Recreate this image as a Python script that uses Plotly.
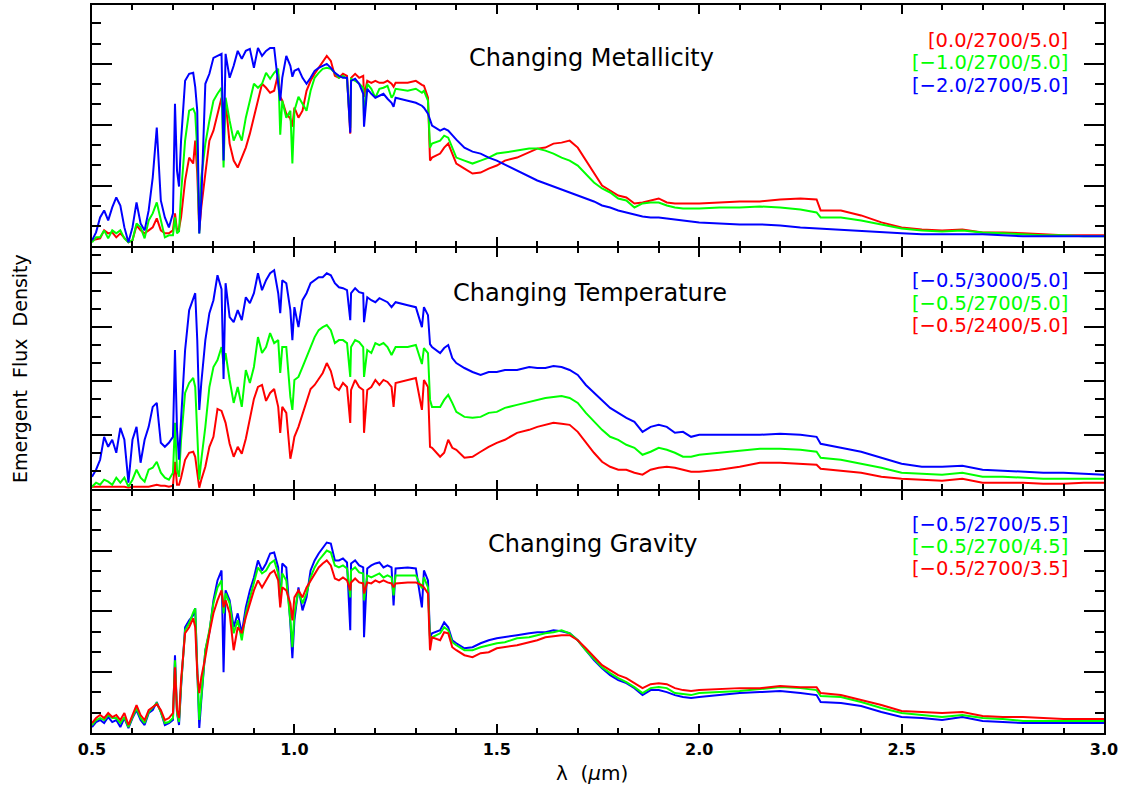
import plotly.graph_objects as go

# Wavelength grid (micron)
wavelength = (
    [0.50, 0.51, 0.52, 0.53, 0.54, 0.55, 0.56, 0.57, 0.58, 0.59, 0.60, 0.61, 0.62, 0.63, 0.64, 0.65, 0.66, 0.67, 0.68, 0.69, 0.70]
    + [0.705, 0.71, 0.715, 0.72, 0.73, 0.74, 0.75, 0.755, 0.76, 0.765, 0.77, 0.78, 0.79, 0.80, 0.81, 0.82, 0.825, 0.83]
    + [0.84, 0.85, 0.86, 0.87, 0.88, 0.89, 0.90, 0.91, 0.92, 0.93, 0.94, 0.95, 0.96, 0.965, 0.97, 0.98, 0.99, 0.995, 1.00]
    + [1.01, 1.02, 1.03, 1.04, 1.05, 1.06, 1.07, 1.08, 1.09, 1.10, 1.11, 1.12, 1.13, 1.138, 1.14, 1.15, 1.16, 1.17, 1.172, 1.18, 1.19, 1.20]
    + [1.21, 1.22, 1.23, 1.24, 1.245, 1.25, 1.28, 1.30, 1.315, 1.32, 1.33, 1.335, 1.34, 1.36, 1.37, 1.38, 1.39, 1.40]
    + [1.42, 1.44, 1.46, 1.48, 1.50, 1.52, 1.55, 1.58, 1.60, 1.62, 1.64, 1.66, 1.68, 1.70, 1.72, 1.74, 1.76, 1.78, 1.80]
    + [1.82, 1.84, 1.86, 1.88, 1.90, 1.92, 1.94, 1.96, 1.98, 2.00, 2.05, 2.10, 2.15, 2.20, 2.25, 2.29, 2.30, 2.35, 2.40, 2.45, 2.50]
    + [2.55, 2.60, 2.65, 2.70, 2.75, 2.80, 2.85, 2.90, 2.95, 3.00]
)

# ---- Top panel: changing metallicity (arbitrary flux units) ----
met_00 = (
    [6, 7, 8, 16, 13, 14, 9, 13, 9, 4, 6, 21, 16, 13, 16, 19, 28, 16, 13, 13, 16]
    + [33, 16, 18, 29, 66, 89, 83, 106, 73, 16, 39, 73, 106, 116, 133, 149, 140, 146]
    + [103, 86, 79, 89, 99, 113, 129, 146, 163, 159, 154, 156, 173, 150, 146, 133, 128, 120, 139]
    + [129, 136, 156, 166, 173, 179, 184, 191, 186, 171, 169, 173, 171, 113, 169, 173, 169, 171, 150, 166, 164, 166]
    + [164, 164, 166, 163, 160, 164, 164, 166, 162, 161, 149, 86, 89, 93, 99, 103, 93, 83]
    + [78, 73, 74, 78, 81, 86, 89, 94, 98, 99, 103, 104, 106, 99, 86, 73, 61, 56, 51]
    + [49, 43, 44, 46, 48, 44, 43, 43, 43, 43, 44, 45, 45, 47, 48, 47, 36, 36, 31, 24, 19]
    + [17, 16, 17, 14, 14, 13, 12, 11, 11, 11]
)
met_m10 = (
    [4, 9, 9, 16, 8, 16, 13, 16, 8, 4, 6, 23, 19, 8, 26, 33, 44, 26, 9, 11, 11]
    + [29, 13, 15, 53, 106, 136, 138, 133, 96, 13, 69, 103, 126, 146, 153, 159, 79, 149]
    + [126, 106, 116, 106, 129, 146, 163, 159, 163, 174, 168, 174, 178, 112, 146, 129, 136, 83, 136]
    + [150, 143, 136, 156, 169, 174, 178, 179, 178, 174, 169, 171, 168, 119, 168, 166, 163, 159, 129, 163, 158, 149]
    + [158, 159, 161, 149, 152, 158, 156, 158, 154, 156, 146, 99, 103, 106, 111, 109, 99, 89]
    + [86, 83, 86, 89, 93, 94, 96, 98, 98, 96, 93, 89, 86, 81, 73, 64, 58, 54, 48]
    + [46, 39, 43, 44, 44, 41, 39, 38, 38, 38, 39, 39, 40, 39, 37, 34, 29, 29, 26, 22, 18]
    + [16, 15, 16, 14, 13, 12, 11, 11, 10, 10]
)
met_m20 = (
    [6, 14, 29, 36, 26, 39, 49, 41, 19, 4, 19, 44, 23, 16, 36, 69, 119, 46, 29, 19, 33]
    + [143, 76, 60, 106, 166, 173, 174, 160, 136, 13, 46, 163, 173, 189, 191, 193, 86, 193]
    + [169, 181, 196, 188, 196, 198, 179, 199, 191, 196, 199, 199, 163, 146, 169, 191, 181, 170, 176]
    + [178, 169, 163, 169, 176, 179, 181, 183, 179, 174, 171, 169, 169, 114, 166, 168, 163, 153, 120, 158, 153, 149]
    + [151, 153, 148, 144, 140, 149, 146, 144, 141, 139, 133, 126, 121, 116, 118, 116, 111, 107]
    + [99, 95, 93, 89, 86, 82, 76, 70, 66, 63, 60, 57, 54, 51, 48, 45, 41, 39, 36]
    + [34, 32, 30, 29, 29, 28, 27, 26, 25, 24, 23, 22, 22, 21, 19, 18, 18, 17, 15, 14, 13]
    + [12, 12, 12, 12, 11, 10, 10, 10, 10, 10]
)

# ---- Middle panel: changing temperature ----
teff_3000 = (
    [12, 19, 29, 52, 42, 49, 36, 61, 49, 6, 49, 62, 26, 49, 62, 82, 86, 46, 42, 46, 52]
    + [139, 59, 29, 69, 139, 179, 191, 196, 149, 79, 106, 149, 176, 189, 214, 200, 110, 206]
    + [172, 167, 179, 169, 192, 186, 196, 216, 199, 209, 216, 219, 196, 176, 209, 206, 179, 149, 182]
    + [162, 189, 196, 206, 209, 212, 212, 216, 214, 206, 202, 201, 199, 169, 196, 201, 197, 196, 167, 192, 189, 187]
    + [191, 189, 187, 182, 184, 187, 184, 182, 162, 182, 174, 145, 142, 136, 141, 144, 131, 126]
    + [121, 117, 114, 117, 117, 119, 119, 122, 121, 121, 123, 122, 119, 114, 104, 96, 89, 81, 76]
    + [71, 67, 57, 62, 64, 62, 56, 57, 52, 54, 54, 54, 54, 55, 54, 52, 45, 41, 37, 31, 25]
    + [22, 22, 23, 19, 18, 17, 16, 16, 15, 14]
)
teff_2700 = (
    [2, 6, 4, 9, 7, 4, 11, 6, 11, 2, 9, 19, 11, 7, 19, 21, 27, 16, 11, 9, 16]
    + [66, 19, 12, 49, 96, 106, 111, 102, 62, 9, 29, 62, 102, 122, 129, 142, 125, 136]
    + [109, 86, 102, 82, 119, 106, 122, 152, 136, 142, 156, 146, 149, 116, 142, 142, 92, 79, 109]
    + [112, 122, 132, 142, 152, 159, 162, 164, 159, 146, 149, 149, 146, 112, 142, 149, 147, 142, 112, 139, 136, 146]
    + [144, 146, 142, 134, 138, 142, 142, 144, 125, 141, 136, 89, 82, 82, 89, 94, 86, 77]
    + [72, 71, 72, 76, 77, 81, 84, 87, 89, 91, 92, 93, 91, 86, 76, 67, 59, 52, 49]
    + [44, 41, 34, 37, 41, 39, 36, 32, 32, 34, 36, 38, 40, 40, 39, 37, 31, 29, 25, 21, 16]
    + [15, 14, 16, 12, 12, 11, 10, 10, 10, 10]
)
teff_2400 = (
    [2, 2, 2, 2, 2, 2, 2, 2, 2, 1, 2, 2, 2, 2, 2, 3, 4, 3, 3, 2, 3]
    + [27, 4, 4, 11, 29, 36, 37, 32, 16, 1, 9, 22, 42, 52, 80, 78, 72, 66]
    + [45, 32, 42, 35, 50, 70, 90, 102, 104, 88, 96, 100, 82, 56, 82, 76, 30, 40, 52]
    + [62, 75, 88, 100, 104, 110, 116, 126, 118, 102, 99, 106, 102, 66, 99, 109, 102, 99, 56, 99, 102, 109]
    + [104, 109, 107, 102, 82, 106, 109, 111, 79, 109, 102, 42, 41, 32, 36, 49, 41, 39]
    + [31, 32, 37, 42, 46, 49, 56, 59, 62, 64, 66, 65, 64, 57, 46, 36, 27, 22, 19]
    + [19, 16, 14, 19, 21, 22, 21, 19, 17, 17, 19, 22, 26, 26, 25, 24, 20, 18, 16, 12, 10]
    + [9, 8, 10, 6, 6, 6, 5, 5, 6, 6]
)

# ---- Bottom panel: changing gravity ----
logg_55 = (
    [6, 11, 13, 10, 16, 11, 13, 6, 15, 5, 15, 23, 13, 8, 20, 23, 31, 21, 8, 10, 13]
    + [78, 20, 8, 46, 106, 113, 118, 125, 60, 5, 33, 83, 101, 133, 153, 163, 61, 143]
    + [133, 106, 120, 100, 126, 143, 156, 173, 163, 170, 180, 181, 166, 130, 170, 166, 110, 75, 113]
    + [146, 123, 136, 163, 173, 180, 185, 191, 190, 173, 173, 175, 171, 103, 170, 173, 168, 166, 96, 165, 168, 170]
    + [171, 166, 168, 166, 128, 165, 166, 165, 126, 163, 153, 96, 100, 103, 111, 106, 93, 90]
    + [85, 86, 90, 93, 95, 96, 98, 100, 101, 101, 103, 102, 100, 93, 83, 73, 65, 58, 53]
    + [50, 45, 38, 43, 43, 41, 38, 36, 35, 36, 38, 40, 41, 42, 40, 38, 31, 30, 27, 21, 16]
    + [15, 13, 16, 12, 11, 10, 10, 10, 10, 10]
)
logg_45 = (
    [8, 13, 15, 13, 18, 15, 15, 10, 16, 6, 16, 25, 15, 10, 21, 25, 30, 21, 10, 11, 15]
    + [73, 20, 11, 48, 103, 110, 121, 125, 63, 13, 36, 83, 103, 130, 146, 153, 120, 140]
    + [130, 100, 113, 93, 120, 136, 150, 166, 160, 163, 170, 173, 160, 133, 160, 153, 113, 86, 120]
    + [143, 130, 140, 156, 166, 173, 178, 183, 181, 168, 166, 168, 165, 136, 163, 166, 161, 160, 133, 158, 156, 158]
    + [160, 156, 158, 156, 138, 158, 158, 158, 145, 156, 146, 93, 96, 100, 106, 103, 91, 88]
    + [83, 83, 86, 88, 90, 91, 95, 96, 98, 100, 101, 103, 100, 93, 83, 75, 66, 60, 55]
    + [51, 46, 40, 45, 46, 45, 40, 39, 38, 40, 41, 42, 44, 46, 45, 43, 37, 36, 31, 25, 20]
    + [18, 16, 18, 15, 14, 12, 12, 12, 12, 12]
)
logg_35 = (
    [10, 15, 18, 15, 20, 16, 18, 13, 20, 8, 18, 28, 18, 13, 23, 26, 29, 23, 13, 15, 20]
    + [66, 23, 15, 53, 100, 106, 115, 106, 60, 40, 56, 76, 100, 120, 133, 143, 126, 133]
    + [120, 83, 106, 100, 116, 130, 143, 153, 146, 153, 160, 163, 153, 126, 146, 143, 130, 113, 136]
    + [143, 136, 146, 153, 160, 166, 170, 173, 168, 155, 153, 156, 153, 143, 151, 155, 151, 150, 140, 151, 150, 153]
    + [151, 153, 151, 150, 146, 150, 151, 151, 148, 146, 140, 83, 96, 93, 101, 100, 86, 83]
    + [78, 76, 80, 81, 85, 86, 88, 91, 93, 96, 97, 98, 98, 93, 85, 76, 68, 63, 58]
    + [55, 50, 45, 49, 50, 49, 45, 43, 42, 43, 44, 45, 45, 47, 46, 46, 40, 38, 33, 28, 22]
    + [21, 20, 21, 17, 16, 16, 15, 14, 14, 14]
)

for s in (met_00, met_m10, met_m20, teff_3000, teff_2700, teff_2400, logg_55, logg_45, logg_35):
    assert len(s) == len(wavelength), (len(s), len(wavelength))

panel_titles = ["Changing Metallicity", "Changing Temperature", "Changing Gravity"]
top_labels = ["[0.0/2700/5.0]", "[\u22121.0/2700/5.0]", "[\u22122.0/2700/5.0]"]
mid_labels = ["[\u22120.5/3000/5.0]", "[\u22120.5/2700/5.0]", "[\u22120.5/2400/5.0]"]
bot_labels = ["[\u22120.5/2700/5.5]", "[\u22120.5/2700/4.5]", "[\u22120.5/2700/3.5]"]
x_ticks = [0.5, 1.0, 1.5, 2.0, 2.5, 3.0]

RED, GREEN, BLUE = "#ff0000", "#00ff00", "#0000ff"

fig = go.Figure()

def add(series, color, xa, ya):
    fig.add_trace(go.Scatter(x=wavelength, y=series, mode="lines",
                             line=dict(color=color, width=2), xaxis=xa, yaxis=ya,
                             showlegend=False, hoverinfo="skip"))

# top panel (x3 / y3): red, green, blue (blue on top)
add(met_00, RED, "x3", "y3")
add(met_m10, GREEN, "x3", "y3")
add(met_m20, BLUE, "x3", "y3")
# middle panel (x2 / y2)
add(teff_2400, RED, "x2", "y2")
add(teff_2700, GREEN, "x2", "y2")
add(teff_3000, BLUE, "x2", "y2")
# bottom panel (x / y): blue, green, red (red on top)
add(logg_55, BLUE, "x", "y")
add(logg_45, GREEN, "x", "y")
add(logg_35, RED, "x", "y")

FONT = "DejaVu Sans"

def xax(labels):
    return dict(range=[0.5, 3.0], tickvals=x_ticks, ticktext=[f"{v:.1f}" for v in x_ticks],
                ticks="inside", ticklen=9, tickwidth=1.5, tickcolor="black",
                minor=dict(ticks="inside", ticklen=5, dtick=0.1, tick0=0.5, tickwidth=1.5, tickcolor="black", showgrid=False),
                showline=True, linewidth=2, linecolor="black", mirror="allticks",
                showgrid=False, zeroline=False, showticklabels=labels,
                tickfont=dict(family=FONT, size=16, color="black", weight="bold"),
                ticklabelstandoff=1)

def yax(domain, top, major, anchor):
    return dict(domain=domain, range=[0, top], tick0=0, dtick=major,
                ticks="inside", ticklen=20, tickwidth=1.5, tickcolor="black",
                minor=dict(ticks="inside", ticklen=9, dtick=major / 3, tick0=0, tickwidth=1.5, tickcolor="black", showgrid=False),
                showline=True, linewidth=2, linecolor="black", mirror="allticks",
                showgrid=False, zeroline=False, showticklabels=False, anchor=anchor)

H = 730.0
d1 = 244 / H
d2 = 487 / H
px = 1 / H

fig.update_layout(
    width=1125, height=797,
    margin=dict(l=92, r=21, t=3, b=64),
    paper_bgcolor="white", plot_bgcolor="white",
    xaxis=xax(True) | dict(anchor="y"),
    xaxis2=xax(False) | dict(anchor="y2"),
    xaxis3=xax(False) | dict(anchor="y3"),
    yaxis=yax([0, d1 - px], 243, 61, "x"),
    yaxis2=yax([d1 + px, d2 - px], 241, 54, "x2"),
    yaxis3=yax([d2 + px, 1], 242, 61, "x3"),
)

ann = []
title_pos = [("x3", "y3", 1.735, 189), ("x2", "y2", 1.73, 196), ("x", "y", 1.737, 190)]
for t, (xr, yr, xv, yv) in zip(panel_titles, title_pos):
    ann.append(dict(text=t, x=xv, y=yv, xref=xr, yref=yr, showarrow=False,
                    xanchor="center", yanchor="middle",
                    font=dict(family=FONT, size=24, color="black")))

label_sets = [
    ("x3", "y3", top_labels, [RED, GREEN, BLUE], [206.5, 184, 161.5]),
    ("x2", "y2", mid_labels, [BLUE, GREEN, RED], [208.5, 186, 163.5]),
    ("x", "y", bot_labels, [BLUE, GREEN, RED], [209.5, 187, 164.5]),
]
for xr, yr, labels, colors, ys in label_sets:
    for lab, col, yv in zip(labels, colors, ys):
        ann.append(dict(text=lab, x=2.913, y=yv, xref=xr, yref=yr, showarrow=False,
                        xanchor="right", yanchor="middle", borderpad=0,
                        font=dict(family=FONT, size=19.5, color=col)))

ann.append(dict(text="\u03bb  (<i>\u03bc</i>m)", x=(592 - 92) / 1012, y=-40 / H,
                xref="paper", yref="paper", showarrow=False, xanchor="center", yanchor="middle",
                font=dict(family=FONT, size=20, color="black")))
ann.append(dict(text="Emergent  Flux  Density", x=(20 - 92) / 1012, y=0.5,
                xref="paper", yref="paper", showarrow=False, xanchor="center", yanchor="middle",
                textangle=-90, font=dict(family=FONT, size=19, color="black")))
fig.update_layout(annotations=ann)

fig.write_html("out.html")
